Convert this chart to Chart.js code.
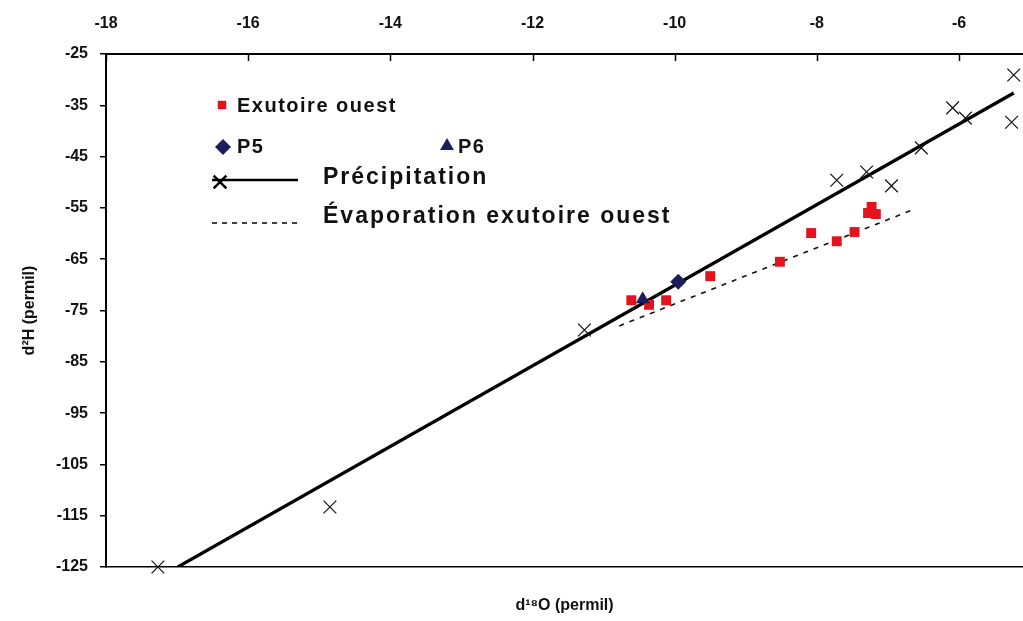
<!DOCTYPE html>
<html>
<head>
<meta charset="utf-8">
<script src="https://cdn.jsdelivr.net/npm/chart.js@4/dist/chart.umd.min.js"></script>
<style>
  body { margin: 0; background: #fff; }
  #wrap { width: 1023px; height: 621px; }
</style>
</head>
<body>
<div id="wrap"><canvas id="isoChart"></canvas></div>
<script>
// tick labels
const xTicks = [-18, -16, -14, -12, -10, -8, -6];
const yTicks = [-25, -35, -45, -55, -65, -75, -85, -95, -105, -115, -125];

// Exutoire ouest (red squares)
const exutoireX = [-10.61, -10.36, -10.12, -9.50, -8.52, -8.08, -7.72, -7.47, -7.23, -7.28, -7.17];
const exutoireY = [-73.0, -73.9, -73.0, -68.3, -65.5, -59.9, -61.5, -59.7, -54.8, -56.0, -56.2];

// P5 / P6
const p5X = [-9.95];
const p5Y = [-69.4];
const p6X = [-10.45];
const p6Y = [-72.8];

// Precipitation samples (crosses)
const precipX = [-17.27, -14.85, -11.27, -7.72, -7.30, -6.95, -6.53, -6.09, -5.91, -5.23, -5.26];
const precipY = [-125.0, -113.3, -78.8, -49.6, -48.0, -50.7, -43.3, -35.5, -37.5, -29.1, -38.3];

// Precipitation line and evaporation line end points
const precipLineX = [-16.99, -5.23];
const precipLineY = [-125.0, -32.6];
const evapLineX = [-10.78, -6.62];
const evapLineY = [-78.0, -55.2];

const red = '#e3121b';
const navy = '#1b1d5c';
const font = '"Liberation Sans", Arial, sans-serif';

const pts = (xs, ys) => xs.map((x, i) => ({x: x, y: ys[i]}));

// legend drawn inside the plot, Excel-like layout
const insideLegend = {
    id: 'insideLegend',
    afterDraw: (chart) => {
        const ctx = chart.ctx;
        const {left, top} = chart.chartArea;
        const dp = Chart.helpers.drawPoint;
        ctx.save();
        ctx.fillStyle = '#111';
        ctx.textBaseline = 'middle';
        ctx.textAlign = 'left';

        ctx.font = 'bold 20px ' + font;
        ctx.letterSpacing = '1.5px';
        ctx.fillStyle = red;
        dp(ctx, {pointStyle: 'rect', radius: 6, borderWidth: 0}, left + 116, top + 51);
        ctx.fillStyle = '#111';
        ctx.fillText('Exutoire ouest', left + 131, top + 52);

        ctx.fillStyle = navy;
        ctx.strokeStyle = navy;
        dp(ctx, {pointStyle: 'rectRot', radius: 8, borderWidth: 0}, left + 117, top + 93);
        dp(ctx, {pointStyle: 'triangle', radius: 8, borderWidth: 0}, left + 341, top + 92);
        ctx.fillStyle = '#111';
        ctx.fillText('P5', left + 131, top + 93);
        ctx.fillText('P6', left + 352, top + 93);

        ctx.strokeStyle = '#000';
        ctx.lineWidth = 2.5;
        ctx.beginPath();
        ctx.moveTo(left + 106, top + 126);
        ctx.lineTo(left + 192, top + 126);
        ctx.stroke();
        dp(ctx, {pointStyle: 'crossRot', radius: 9, borderWidth: 1.6}, left + 114, top + 128);

        ctx.lineWidth = 1.5;
        ctx.setLineDash([5, 5]);
        ctx.beginPath();
        ctx.moveTo(left + 106, top + 169);
        ctx.lineTo(left + 192, top + 169);
        ctx.stroke();
        ctx.setLineDash([]);

        ctx.font = 'bold 23px ' + font;
        ctx.letterSpacing = '2px';
        ctx.fillText('Précipitation', left + 217, top + 124);
        ctx.fillText('Évaporation exutoire ouest', left + 217, top + 163);
        ctx.restore();
    }
};

// Excel style: tick marks of the top axis point into the plot
const innerTicks = {
    id: 'innerTicks',
    afterDraw: (chart) => {
        const ctx = chart.ctx;
        const xs = chart.scales.x;
        const top = chart.chartArea.top;
        ctx.save();
        ctx.strokeStyle = '#000';
        ctx.lineWidth = 1.5;
        xTicks.forEach(v => {
            const px = Math.round(xs.getPixelForValue(v)) + 0.5;
            ctx.beginPath();
            ctx.moveTo(px, top);
            ctx.lineTo(px, top + 7);
            ctx.stroke();
        });
        ctx.restore();
    }
};

new Chart(document.getElementById('isoChart'), {
    type: 'scatter',
    data: {
        datasets: [
            {
                label: 'P6',
                data: pts(p6X, p6Y),
                pointStyle: 'triangle',
                pointRadius: 8,
                backgroundColor: navy,
                borderColor: navy,
                borderWidth: 0
            },
            {
                label: 'P5',
                data: pts(p5X, p5Y),
                pointStyle: 'rectRot',
                pointRadius: 8,
                backgroundColor: navy,
                borderColor: navy,
                borderWidth: 0
            },
            {
                label: 'Exutoire ouest',
                data: pts(exutoireX, exutoireY),
                pointStyle: 'rect',
                pointRadius: 7,
                backgroundColor: red,
                borderColor: red,
                borderWidth: 0
            },
            {
                label: 'Précipitation',
                data: pts(precipX, precipY),
                pointStyle: 'crossRot',
                pointRadius: 9,
                borderColor: '#111',
                borderWidth: 1.2,
                clip: false
            },
            {
                label: 'Précipitation (droite)',
                data: pts(precipLineX, precipLineY),
                showLine: true,
                pointRadius: 0,
                borderColor: '#000',
                borderWidth: 3.2
            },
            {
                label: 'Évaporation exutoire ouest',
                data: pts(evapLineX, evapLineY),
                showLine: true,
                pointRadius: 0,
                borderColor: '#111',
                borderWidth: 1.6,
                borderDash: [5, 6]
            }
        ]
    },
    options: {
        responsive: true,
        maintainAspectRatio: false,
        animation: false,
        layout: {padding: 0, autoPadding: false},
        plugins: {
            legend: {display: false},
            tooltip: {enabled: false}
        },
        scales: {
            x: {
                type: 'linear',
                position: 'top',
                min: -18,
                max: -5.1,
                afterBuildTicks: s => { s.ticks = xTicks.map(v => ({value: v})); },
                afterFit: s => { s.height = 54; },
                grid: {display: false, drawTicks: false},
                border: {display: true, color: '#000', width: 2},
                ticks: {
                    padding: 21,
                    color: '#111',
                    font: {family: font, size: 16, weight: 'bold'}
                }
            },
            x2: {
                type: 'linear',
                position: 'bottom',
                min: -18,
                max: -5.1,
                afterFit: s => { s.height = 54; },
                grid: {display: false, drawTicks: false},
                border: {display: true, color: '#000', width: 1.5},
                ticks: {display: false},
                title: {
                    display: true,
                    text: 'd¹⁸O (permil)',
                    color: '#111',
                    padding: {top: 0, bottom: 6},
                    font: {family: font, size: 16, weight: 'bold'}
                }
            },
            y: {
                type: 'linear',
                position: 'left',
                min: -125,
                max: -25,
                afterBuildTicks: s => { s.ticks = yTicks.map(v => ({value: v})); },
                afterFit: s => { s.width = 106; },
                grid: {drawOnChartArea: false, drawTicks: true, tickLength: 6, color: '#000', lineWidth: 1.5},
                border: {display: true, color: '#000', width: 2},
                ticks: {
                    padding: 12,
                    color: '#111',
                    font: {family: font, size: 16, weight: 'bold'}
                },
                title: {
                    display: true,
                    text: 'd²H (permil)',
                    color: '#111',
                    padding: {top: 20, bottom: 0},
                    font: {family: font, size: 16, weight: 'bold'}
                }
            }
        }
    },
    plugins: [innerTicks, insideLegend]
});
</script>
</body>
</html>
